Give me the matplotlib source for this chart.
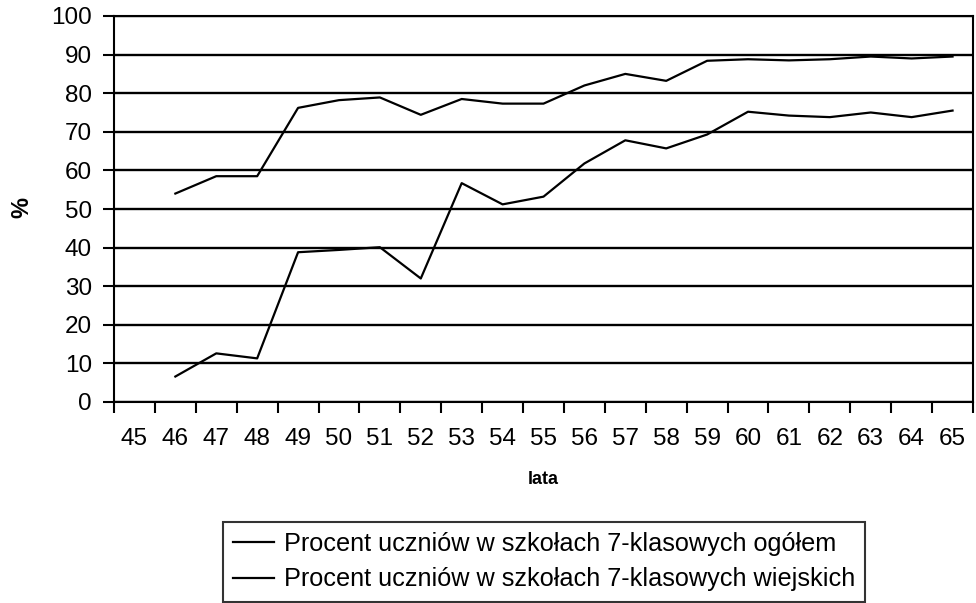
import numpy as np
import matplotlib.pyplot as plt

# Kategorie osi X (lata 1945-1965, zapis skrócony)
lata = [str(r) for r in range(45, 66)]

# Dane (od roku 46)
lata_danych = [str(r) for r in range(46, 66)]
ogolem = [54.0, 58.5, 58.5, 76.2, 78.2, 78.9, 74.4, 78.5, 77.3, 77.3,
          82.0, 85.0, 83.2, 88.4, 88.8, 88.5, 88.8, 89.5, 89.0, 89.5]
wiejskie = [6.6, 12.6, 11.3, 38.8, 39.4, 40.1, 32.0, 56.7, 51.2, 53.2,
            61.8, 67.8, 65.7, 69.3, 75.2, 74.2, 73.8, 75.0, 73.8, 75.5]

etykiety = ['Procent uczniów w szkołach 7-klasowych ogółem',
            'Procent uczniów w szkołach 7-klasowych wiejskich']

plt.rcParams['font.family'] = ['Liberation Sans', 'DejaVu Sans']

fig = plt.figure(figsize=(9.76, 6.03), dpi=100)
ax = fig.add_axes([114 / 976, 1 - 402 / 603, (973 - 114) / 976, (402 - 16) / 603])

pos = {lab: i for i, lab in enumerate(lata)}
x = [pos[r] for r in lata_danych]

ax.plot(x, ogolem, color='black', lw=1.6, label=etykiety[0])
ax.plot(x, wiejskie, color='black', lw=1.6, label=etykiety[1])

ax.set_xlim(-0.5, len(lata) - 0.5)
ax.set_ylim(0, 100)
ax.set_yticks(np.arange(0, 101, 10))
ax.yaxis.grid(True, color='black', lw=1.7)
ax.set_axisbelow(True)

ax.set_xticks(range(len(lata)))
ax.set_xticklabels(lata)
ax.set_xticks(np.arange(-0.5, len(lata), 1), minor=True)
ax.tick_params(axis='x', which='major', length=0, pad=19, labelsize=17.5)
ax.tick_params(axis='x', which='minor', length=8, width=1.5, direction='out')
ax.tick_params(axis='y', length=8, width=1.5, pad=8, labelsize=17.5)

for s in ax.spines.values():
    s.set_color('black')
    s.set_linewidth(1.5)

ax.set_ylabel('%', fontsize=17, fontweight='bold')
ax.yaxis.set_label_coords(-0.094, 0.505)
ax.set_xlabel('lata', fontsize=13, fontweight='bold', labelpad=15)

leg = fig.legend(loc='upper left', bbox_to_anchor=(223 / 976, 1 - 522 / 603),
                 fontsize=18.2, frameon=True, fancybox=False, handlelength=1.6,
                 handletextpad=0.4, borderpad=0.4, labelspacing=0.45,
                 borderaxespad=0)
leg.get_frame().set_edgecolor('black')
leg.get_frame().set_linewidth(1.5)

fig.savefig('out.png', dpi=100)
